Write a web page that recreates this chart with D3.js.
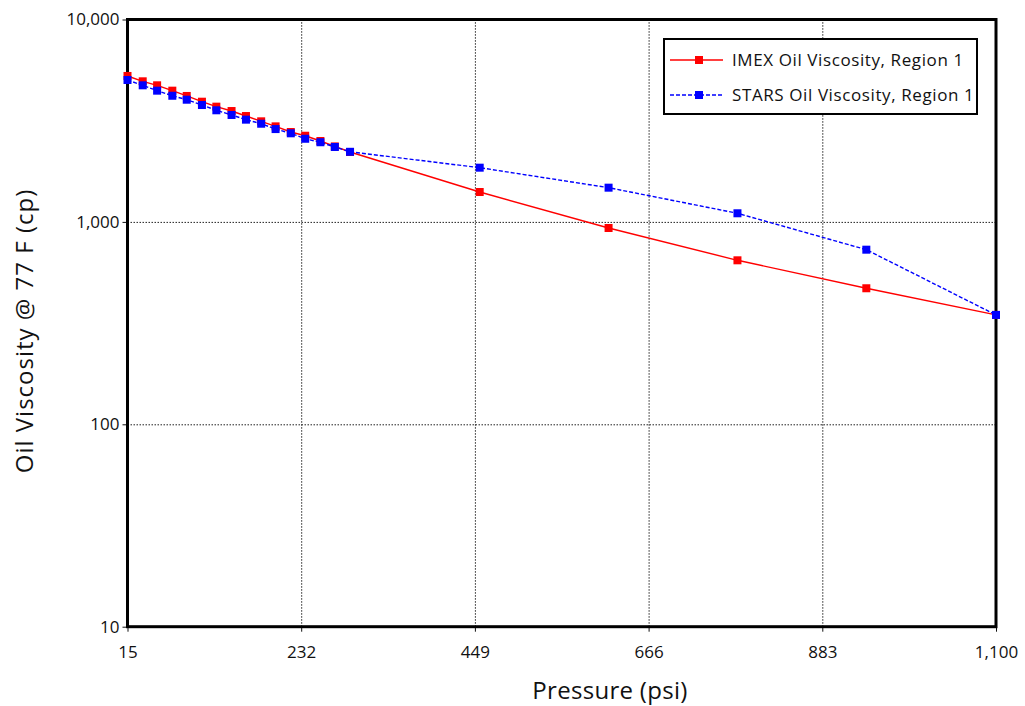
<!DOCTYPE html>
<html>
<head>
<meta charset="utf-8">
<script src="https://cdn.jsdelivr.net/npm/d3@7"></script>
<style>
  body { margin: 0; background: #fff; }
  text { font-family: "Open Sans", sans-serif; fill: #111; }
</style>
</head>
<body>
<svg width="1025" height="706"></svg>
<script>
// pressure (psi) for each table row
var pressure = [15, 34, 52, 71, 89, 108, 126, 145, 163, 182, 200, 219, 237, 256, 274, 293, 455, 616, 777, 938, 1100]
// oil viscosity (cp)
var imexVisc = [5260, 4950, 4730, 4450, 4190, 3925, 3710, 3530, 3335, 3140, 2965, 2780, 2665, 2510, 2360, 2215, 1405, 933, 646, 470, 347]
var starsVisc = [5025, 4730, 4450, 4200, 4015, 3780, 3560, 3375, 3200, 3055, 2875, 2740, 2575, 2475, 2345, 2220, 1853, 1476, 1103, 729, 347]
var xTicks = [15, 232, 449, 666, 883, 1100]
var yTicks = [10, 100, 1000, 10000]
var seriesNames = ["IMEX Oil Viscosity, Region 1", "STARS Oil Viscosity, Region 1"]

var svg = d3.select("svg")
var plotL = 127.5, plotR = 996, plotT = 19.5, plotB = 626.7
var width = plotR - plotL, height = plotB - plotT

var xScale = d3.scaleLinear().domain([15, 1100]).range([plotL, plotR])
var yScale = d3.scaleLog().domain([10, 10000]).range([plotB, plotT])

// dotted grid
svg.append("g")
  .attr("transform", "translate(0," + plotB + ")")
  .call(d3.axisBottom(xScale).tickValues(xTicks.slice(1, -1)).tickSize(-height).tickFormat(""))
  .call(g => g.select(".domain").remove())
  .selectAll("line").attr("stroke", "#222").attr("stroke-dasharray", "1.5,1.5")
svg.append("g")
  .attr("transform", "translate(" + plotL + ",0)")
  .call(d3.axisLeft(yScale).tickValues(yTicks.slice(1, -1)).tickSize(-width).tickFormat(""))
  .call(g => g.select(".domain").remove())
  .selectAll("line").attr("stroke", "#222").attr("stroke-dasharray", "1.5,1.5")

// axes
var xAxis = svg.append("g")
  .attr("transform", "translate(0," + plotB + ")")
  .call(d3.axisBottom(xScale).tickValues(xTicks).tickFormat(d3.format(",")).tickSize(5).tickSizeOuter(0).tickPadding(14))
xAxis.select(".domain").remove()
xAxis.selectAll("text").style("font-size", "17px").attr("fill", "#111")
xAxis.selectAll("line").attr("stroke", "#111")

var yAxis = svg.append("g")
  .attr("transform", "translate(" + plotL + ",0)")
  .call(d3.axisLeft(yScale).tickValues(yTicks).tickFormat(d3.format(",")).tickSize(5).tickSizeOuter(0).tickPadding(3))
yAxis.select(".domain").remove()
yAxis.selectAll("text").style("font-size", "17px").attr("fill", "#111")
yAxis.selectAll("line").attr("stroke", "#111")

// frame
svg.append("rect")
  .attr("x", plotL).attr("y", plotT)
  .attr("width", width).attr("height", height)
  .attr("fill", "none").attr("stroke", "#000").attr("stroke-width", 3)

var series = [
  {name: seriesNames[0], values: imexVisc, color: "#ff0000", dash: null},
  {name: seriesNames[1], values: starsVisc, color: "#0000ff", dash: "4,2"}
]

var line = d3.line()
  .x((d, i) => xScale(pressure[i]))
  .y(d => yScale(d))

series.forEach(s => {
  svg.append("path")
    .datum(s.values)
    .attr("d", line)
    .attr("fill", "none")
    .attr("stroke", s.color)
    .attr("stroke-width", 1.4)
    .attr("stroke-dasharray", s.dash)
  svg.append("g")
    .selectAll("rect")
    .data(s.values)
    .enter()
    .append("rect")
    .attr("x", (d, i) => xScale(pressure[i]) - 4)
    .attr("y", d => yScale(d) - 4)
    .attr("width", 8)
    .attr("height", 8)
    .attr("fill", s.color)
})

// legend
var legend = svg.append("g")
legend.append("rect")
  .attr("x", 664).attr("y", 39)
  .attr("width", 313).attr("height", 75)
  .attr("fill", "#fff").attr("stroke", "#000").attr("stroke-width", 2)
series.forEach((s, i) => {
  var ly = 60 + i * 35
  legend.append("line")
    .attr("x1", 670).attr("x2", 723)
    .attr("y1", ly).attr("y2", ly)
    .attr("stroke", s.color).attr("stroke-width", 1.4)
    .attr("stroke-dasharray", s.dash)
  legend.append("rect")
    .attr("x", 695).attr("y", ly - 4)
    .attr("width", 8).attr("height", 8)
    .attr("fill", s.color)
  legend.append("text")
    .attr("x", 732).attr("y", ly)
    .attr("dy", "0.35em")
    .style("font-size", "17px")
    .style("letter-spacing", "0.6px")
    .text(s.name)
})

// titles
svg.append("text")
  .attr("x", 610).attr("y", 699)
  .attr("text-anchor", "middle")
  .style("font-size", "24px")
  .style("letter-spacing", "0.3px")
  .text("Pressure (psi)")
svg.append("text")
  .attr("transform", "translate(33,331) rotate(-90)")
  .attr("text-anchor", "middle")
  .style("font-size", "24px")
  .style("letter-spacing", "1px")
  .text("Oil Viscosity @ 77 F (cp)")
</script>
</body>
</html>
